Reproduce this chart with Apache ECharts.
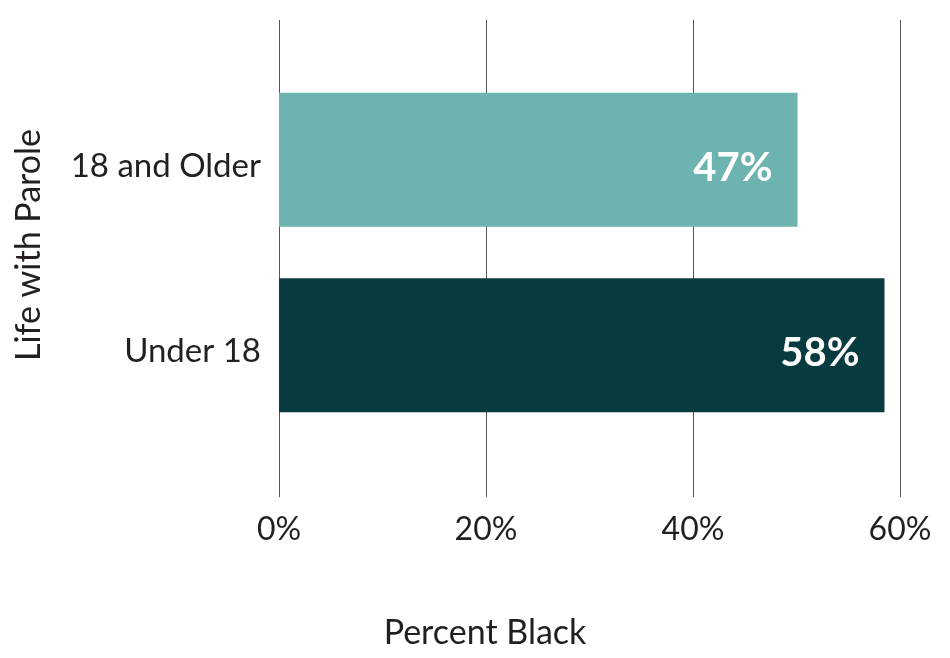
<!DOCTYPE html>
<html>
<head>
<meta charset="utf-8">
<script src="https://cdn.jsdelivr.net/npm/echarts@6/dist/echarts.min.js"></script>
<style>
  html, body { margin: 0; padding: 0; background: #fff; }
  #chart { width: 950px; height: 658px; }
</style>
</head>
<body>
<div id="chart"></div>
<script>
// data
var categories = ['18 and Older', 'Under 18']
var values = [50.1, 58.5]          // bar lengths as drawn
var valueLabels = ['47%', '58%']   // labels printed on the bars
var barColors = ['#6db3b0', '#073b3f']
var xTicks = [0, 20, 40, 60]
var xTitle = 'Percent Black'
var yTitle = 'Life with Parole'

var font = 'Lato'
var textColor = '#231f20'

var chart = echarts.init(document.getElementById('chart'))

var option = {
  animation: false,
  grid: [
    // grid 0 only carries the vertical gridlines and tick labels
    { left: 279, right: 50, top: 20, bottom: 161 },
    // grid 1 holds the bars
    { left: 279, right: 50, top: 67, bottom: 220 }
  ],
  // axis titles sit off-centre in the original, so they are placed by hand
  graphic: [
    {
      type: 'text',
      x: 485,
      y: 633,
      style: {
        text: xTitle,
        font: '34px ' + font,
        fill: textColor,
        textAlign: 'center',
        textVerticalAlign: 'middle'
      }
    },
    {
      type: 'text',
      x: 29,
      y: 245,
      rotation: Math.PI / 2,
      style: {
        text: yTitle,
        font: '34px ' + font,
        fill: textColor,
        textAlign: 'center',
        textVerticalAlign: 'middle'
      }
    }
  ],
  xAxis: [
    {
      gridIndex: 0,
      type: 'value',
      min: xTicks[0],
      max: xTicks[xTicks.length - 1],
      interval: 20,
      axisLine: { show: false },
      axisTick: { show: false },
      splitLine: { show: true, lineStyle: { color: '#555', width: 1 } },
      axisLabel: {
        margin: 17,
        fontFamily: font,
        fontSize: 32,
        color: textColor,
        formatter: '{value}%'
      }
    },
    {
      gridIndex: 1,
      type: 'value',
      min: 0,
      max: 60,
      show: false
    }
  ],
  yAxis: [
    {
      gridIndex: 0,
      type: 'category',
      data: categories,
      show: false
    },
    {
      gridIndex: 1,
      type: 'category',
      data: categories,
      inverse: true,
      axisLine: { show: false },
      axisTick: { show: false },
      axisLabel: {
        margin: 18,
        fontFamily: font,
        fontSize: 33,
        color: textColor,
        // labels sit a little below the bar centre in the original
        verticalAlign: 'top',
        lineHeight: 13
      }
    }
  ],
  series: [
    {
      type: 'bar',
      xAxisIndex: 1,
      yAxisIndex: 1,
      barWidth: 134,
      data: values.map(function (v, i) {
        return { value: v, itemStyle: { color: barColors[i] } }
      }),
      label: {
        show: true,
        position: 'insideRight',
        distance: 25,
        offset: [0, 8],
        fontFamily: font,
        fontSize: 40,
        fontWeight: 'bold',
        color: '#fff',
        formatter: function (p) { return valueLabels[p.dataIndex] }
      }
    }
  ]
}

chart.setOption(option)
</script>
</body>
</html>
